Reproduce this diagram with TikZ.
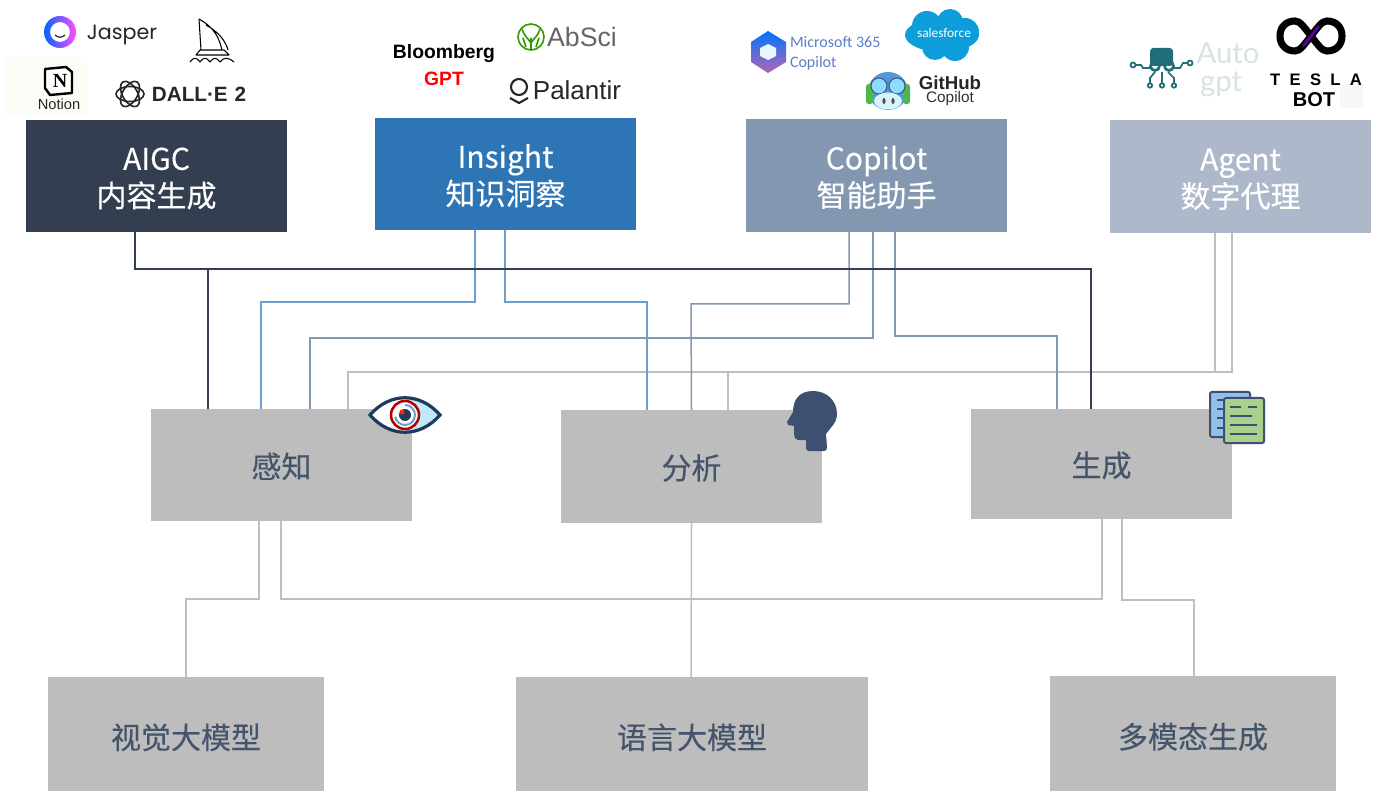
\documentclass[tikz,border=0pt]{standalone}
\usepackage{fontspec}
\setmainfont{Noto Sans CJK SC}
\newfontfamily\cjkm[FakeBold=0.25]{Noto Sans CJK SC}
\newfontfamily\lib{Liberation Sans}
\newfontfamily\libs{Liberation Serif}
\newfontfamily\cali{Carlito}
\newfontfamily\pop{Poppins}
\newfontfamily\lat{Lato}
\usetikzlibrary{calc}
\definecolor{cA}{HTML}{333F50}
\definecolor{cB}{HTML}{2E75B6}
\definecolor{cC}{HTML}{8497B0}
\definecolor{cD}{HTML}{ADB9CA}
\definecolor{gr}{HTML}{BDBDBD}
\definecolor{ink}{HTML}{44546A}
\definecolor{navy}{HTML}{1F3A5F}
\definecolor{headc}{HTML}{3F4F70}
\definecolor{linkgrey}{HTML}{BFBFBF}
\definecolor{linkblue}{HTML}{6C9FCC}
\definecolor{linkmid}{HTML}{8497B0}
\definecolor{msblue}{HTML}{5B7FC7}
\definecolor{sfblue}{HTML}{0D9DDA}
\definecolor{teal1}{HTML}{1F6F78}
\definecolor{teal2}{HTML}{D5E5E5}
\definecolor{notbg}{HTML}{FDFDF8}
\definecolor{docb}{HTML}{93C0E8}
\definecolor{docg}{HTML}{A9D18E}
\tikzset{
  x=0.75pt,y=-0.75pt,
  top/.style={anchor=north west,inner sep=0,outer sep=0,text=white,align=center,font=\cjkm\fontsize{22.5pt}{27pt}\selectfont,
    minimum width=261*0.75pt},
  mid/.style={anchor=north west,inner sep=0,outer sep=0,fill=gr,text=ink,font=\cjkm\fontsize{22.5pt}{26pt}\selectfont,minimum width=261*0.75pt},
  low/.style={anchor=north west,inner sep=0,outer sep=0,fill=gr,text=ink,font=\cjkm\fontsize{22.5pt}{26pt}\selectfont},
  lk/.style={line width=1.5pt*0.75},
  logo/.style={inner sep=0,outer sep=0},
}
\newcommand{\bsplit}[2]{\rule{0pt}{20.5pt}#1\\[0.75pt]#2}
\newcommand{\midt}[1]{\rule{0pt}{21pt}#1}
\newcommand{\lowt}[1]{\rule{0pt}{24pt}#1}
\begin{document}
\begin{tikzpicture}
\useasboundingbox (0,0) rectangle (1374,791);
\fill[white] (0,0) rectangle (1374,791);

% --- top boxes
\node[top,fill=cA,minimum height=112*0.75pt] (aigc) at (26,120) {\bsplit{AIGC}{内容生成}};
\node[top,fill=cB,minimum height=112*0.75pt] (insight) at (375,118) {\bsplit{Insight}{知识洞察}};
\node[top,fill=cC,minimum height=113*0.75pt] (copilot) at (746,119) {\bsplit{Copilot}{智能助手}};
\node[top,fill=cD,minimum height=113*0.75pt] (agent) at (1110,120) {\bsplit{Agent}{数字代理}};
% --- middle boxes
\node[mid,minimum height=112*0.75pt] (perc) at (151,409) {\midt{感知}};
\node[mid,minimum height=113*0.75pt] (anal) at (561,410) {\midt{分析}};
\node[mid,minimum height=110*0.75pt] (gen) at (971,409) {\midt{生成}};
% --- bottom boxes
\node[low,minimum width=276*0.75pt,minimum height=114*0.75pt] (vis) at (48,677) {\lowt{视觉大模型}};
\node[low,minimum width=352*0.75pt,minimum height=114*0.75pt] (lang) at (516,677) {\lowt{语言大模型}};
\node[low,minimum width=286*0.75pt,minimum height=115*0.75pt] (multi) at (1050,676) {\lowt{多模态生成}};

% --- connectors: grey lower tier
\draw[lk,linkgrey] ($(perc.south west)+(108,0)$) |- (186,599) -- ($(vis.north west)+(138,0)$);
\draw[lk,linkgrey] ($(perc.south west)+(130,0)$) |- (1102,599) -- ($(gen.south west)+(131,0)$);
\draw[lk,linkgrey] (anal.south) -- ($(lang.north west)+(175,0)$);
\draw[lk,linkgrey] ($(gen.south west)+(151,0)$) |- (1194,600) -- ($(multi.north west)+(144,0)$);
% --- connectors: agent
\draw[lk,linkgrey] ($(agent.south west)+(105,0)$) -- (1215,372);
\draw[lk,linkgrey] ($(agent.south west)+(122,0)$) |- (348,372) -- ($(perc.north west)+(197,0)$);
\draw[lk,linkgrey] (728,372) -- ($(anal.north west)+(167,0)$);
% --- connectors: copilot
\draw[lk,linkmid] ($(copilot.south west)+(103,0)$) |- (691,304) -- (anal.north);
\draw[lk,linkmid] ($(copilot.south west)+(127,0)$) |- (310,338) -- ($(perc.north west)+(159,0)$);
\draw[lk,linkmid] ($(copilot.south west)+(149,0)$) |- (1057,336) -- ($(gen.north west)+(86,0)$);
% --- connectors: insight
\draw[lk,linkblue] ($(insight.south west)+(100,0)$) |- (261,302) -- ($(perc.north west)+(110,0)$);
\draw[lk,linkblue] ($(insight.south west)+(130,0)$) |- (647,302) -- ($(anal.north west)+(86,0)$);
% --- connectors: aigc
\draw[lk,cA] ($(aigc.south west)+(109,0)$) |- (208,269) -- ($(perc.north west)+(57,0)$);
\draw[lk,cA] (208,269) -| ($(gen.north west)+(120,0)$);

% --- eye icon
\fill[white] (370,415) .. controls (390,392) and (420,392) .. (440,415) .. controls (420,438) and (390,438) .. (370,415);
\fill[cyan!25] (405,398) .. controls (420,398) and (430,405) .. (440,415) .. controls (430,425) and (420,432) .. (405,432) -- cycle;
\draw[navy,line width=2.4pt] (370,415) .. controls (390,392) and (420,392) .. (440,415) .. controls (420,438) and (390,438) .. (370,415) -- cycle;
\draw[red!70!black,line width=1.9pt,fill=white] (405,415) circle (14);
\draw[linkblue,line width=1.5pt] (405,405) arc (-90:170:10);
\fill[navy] (405,415) circle (6);
\fill[red!70!orange] (402,412) circle (2.5);

% --- head icon
\fill[headc] (813,391) .. controls (827,391) and (837,401) .. (837,414)
  .. controls (837,423) and (830,428) .. (826,434) -- (827,447) .. controls (827,450) and (826,451) .. (824,451)
  -- (809,451) .. controls (807,451) and (806,450) .. (806,448) -- (806,440) -- (798,440)
  .. controls (795,440) and (794,437) .. (794,434) -- (794,426) -- (788,425) -- (787,422)
  -- (793,412) .. controls (793,400) and (799,391) .. (813,391) -- cycle;

% --- document icon
\draw[headc,fill=docb,line width=1.5pt,rounded corners=1.5pt] (1210,392) rectangle (1250,437);
\foreach \yy in {400,409,418,428} \draw[headc,line width=1.3pt] (1217,\yy) -- (1224,\yy);
\draw[headc,fill=docg,line width=1.5pt,rounded corners=1.5pt] (1224,398) rectangle (1264,443);
\draw[headc,line width=1.3pt] (1230,407) -- (1241,407) (1248,407) -- (1257,407)
  (1230,416) -- (1252,416) (1230,425) -- (1257,425) (1230,434) -- (1257,434);

% --- AIGC logos
\shade[left color=blue!60!cyan,right color=magenta!70,even odd rule]
  (60,32) circle (16) (60,32) circle (10);
\draw[cA,line width=1pt] (55,35) .. controls (58,38) and (62,38) .. (65,35);
\node[logo,font=\pop\fontsize{15.5pt}{16pt}\selectfont,text=black!85] (jasper) at (122,35) {Jasper};
% boat
\draw[black,line width=0.8pt,line join=round] (199,19) -- (201,50) (199,19) .. controls (215,28) and (219,38) .. (222,50) -- (201,50)
  (206,25) .. controls (219,32) and (226,42) .. (228,50) (196,55) -- (229,55) -- (224,50) -- (200,50) -- cycle
  (190,62) .. controls (194,57) and (196,57) .. (200,62) .. controls (204,57) and (206,57) .. (210,62) .. controls (214,57) and (216,57) .. (220,62) .. controls (224,57) and (228,57) .. (234,62);
% notion
\fill[notbg] (5,57) rectangle (87,116);
\draw[black,line width=1.8pt,fill=white,line join=round] (45,69) -- (66,67) -- (72,72) -- (72,93) -- (50,95) -- (45,88) -- cycle;
\node[logo,font=\bfseries\libs\fontsize{15pt}{15pt}\selectfont,text=black] (notn) at (60,81) {N};
\node[logo,font=\lib\fontsize{11pt}{11pt}\selectfont,text=black!85] (notion) at (59,104) {Notion};
% OpenAI knot
\foreach \a in {0,60,120} \draw[black!85,line width=1.2pt,rotate around={\a:(130,94)}] (130,94) ellipse (14 and 7.5);
\node[logo,font=\bfseries\lib\fontsize{15.5pt}{15.5pt}\selectfont,text=black!85] (dalle) at (199,94) {DALL·E\,\,2};

% --- Insight logos
\node[logo,font=\bfseries\lib\fontsize{14.5pt}{15pt}\selectfont,text=black] (bloom) at (444,54) {Bloomberg};
\node[logo,font=\bfseries\lib\fontsize{14.5pt}{15pt}\selectfont,text=red] (gpt) at (444,79) {GPT};
\draw[green!50!black!80!yellow,line width=1.2pt] (531,37) circle (13);
\draw[green!50!black!80!yellow,line width=1.2pt] (531,50) -- (531,38) (522,29) .. controls (524,36) and (528,38) .. (531,43) .. controls (534,38) and (538,36) .. (540,29)
  (526,47) -- (523,38) (536,47) -- (539,38);
\node[logo,font=\lib\fontsize{20pt}{20pt}\selectfont,text=black!60] (absci) at (582,37) {AbSci};
\draw[black!85,line width=1.6pt] (519,87) circle (8);
\draw[black!85,line width=1.6pt] (510,98) -- (519,103) -- (528,98);
\node[logo,font=\lib\fontsize{19.5pt}{20pt}\selectfont,text=black!85] (pal) at (577,90) {Palantir};

% --- Copilot logos
\shade[top color=blue!55!cyan,bottom color=violet!60,line join=round] (768,31) -- (786,42) -- (786,62) -- (768,73) -- (751,62) -- (751,42) -- cycle;
\fill[white!90!cyan] (768,44) -- (776,48) -- (776,56) -- (768,60) -- (760,56) -- (760,48) -- cycle;
\node[logo,anchor=west,font=\cali\fontsize{12pt}{12pt}\selectfont,text=msblue] (ms) at (790,42) {Microsoft 365};
\node[logo,anchor=west,font=\cali\fontsize{12pt}{12pt}\selectfont,text=msblue] (msc) at (790,63) {Copilot};
\fill[sfblue] (942,35) ellipse (37 and 17) (927,26) circle (15) (950,22) circle (13) (965,32) circle (14) (935,47) circle (13) (955,47) circle (14);
\node[logo,font=\cali\fontsize{10pt}{10pt}\selectfont,text=white] (sf) at (944,33) {salesforce};
\fill[cyan!60!blue!70] (888,91) ellipse (20 and 19);
\fill[green!60!black!70,rounded corners=2pt] (866,84) rectangle (873,104) (903,84) rectangle (910,104);
\draw[headc,fill=blue!30!cyan!45,line width=0.7pt] (879,86) circle (8) (897,86) circle (8);
\fill[white!85!cyan] (888,101) ellipse (14 and 8.5);
\fill[black!70] (884,101) ellipse (1.6 and 3) (893,101) ellipse (1.6 and 3);
\node[logo,font=\bfseries\lib\fontsize{14pt}{14pt}\selectfont,text=black!85] (gh) at (950,83) {GitHub};
\node[logo,font=\lib\fontsize{11.5pt}{12pt}\selectfont,text=black!80] (ghc) at (950,99) {Copilot};

% --- Agent logos
\node[logo,font=\lat\fontsize{22pt}{22pt}\selectfont,text=teal2] (auto) at (1228,53) {Auto};
\node[logo,font=\lat\fontsize{22pt}{22pt}\selectfont,text=teal2] (agpt) at (1221,84) {gpt};
\fill[teal1,rounded corners=2.5pt] (1150,48) rectangle (1173,66);
\draw[teal1,line width=2pt] (1155,66) circle (4.5) (1169,66) circle (4.5);
\draw[teal1,line width=1.3pt] (1150,68) -- (1143,68) -- (1141,65) -- (1135,65) (1174,68) -- (1180,68) -- (1183,63) -- (1188,63)
  (1133,65) circle (2.5) (1190,63) circle (2.5)
  (1155,72) -- (1150,78) -- (1150,83) (1162,72) -- (1162,83) (1168,72) -- (1174,78) -- (1174,83)
  (1150,85.5) circle (2.2) (1162,85.5) circle (2.2) (1174,85.5) circle (2.2);
\draw[black,line width=5.3pt] (1311,36) .. controls (1304,27) and (1300,21) .. (1295,21) .. controls (1286,21) and (1280,27) .. (1280,36) .. controls (1280,45) and (1286,51) .. (1295,51) .. controls (1300,51) and (1304,45) .. (1311,36)
  .. controls (1318,27) and (1322,21) .. (1327,21) .. controls (1336,21) and (1342,27) .. (1342,36) .. controls (1342,45) and (1336,51) .. (1327,51) .. controls (1322,51) and (1318,45) .. (1311,36);
\draw[violet!70!blue,line width=2pt] (1303,46) -- (1319,26);
\fill[black!3] (1340,84) rectangle (1363,108);
\node[logo,font=\bfseries\lib\fontsize{12.5pt}{12.5pt}\selectfont,text=black] (tesla) at (1316,80) {T\hspace{7pt}E\hspace{7pt}S\hspace{7pt}L\hspace{7pt}A};
\node[logo,font=\bfseries\lib\fontsize{15pt}{15pt}\selectfont,text=black] (bot) at (1314,100) {BOT};
\end{tikzpicture}
\end{document}
